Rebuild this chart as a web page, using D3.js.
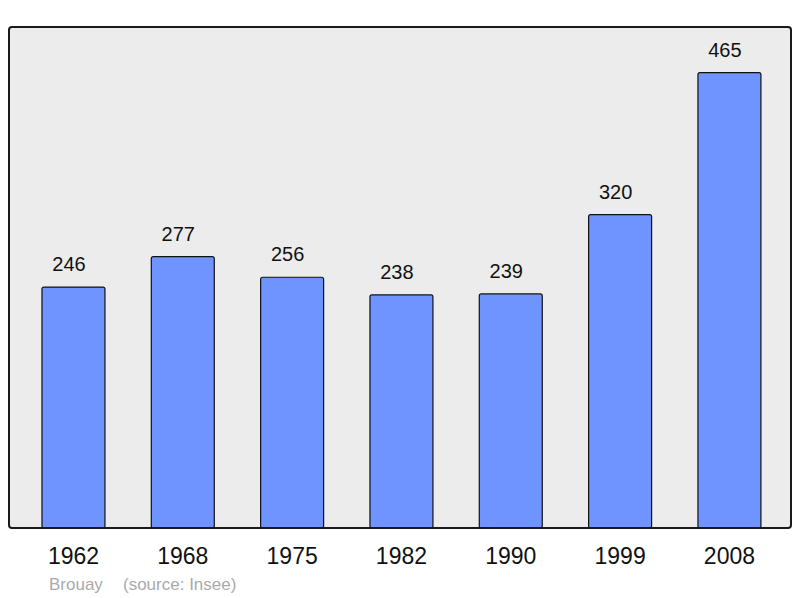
<!DOCTYPE html>
<html>
<head>
<meta charset="utf-8">
<script src="https://cdn.jsdelivr.net/npm/d3@7/dist/d3.min.js"></script>
<style>
  body { margin: 0; background: #fff; }
  svg text { font-family: "Liberation Sans", Arial, sans-serif; }
</style>
</head>
<body>
<svg id="chart" width="800" height="598"></svg>
<script>
// population data, Brouay
var years = ['1962', '1968', '1975', '1982', '1990', '1999', '2008'];
var population = [246, 277, 256, 238, 239, 320, 465];
var place = 'Brouay';
var source = '(source: Insee)';

var svg = d3.select('#chart');

var frame = { left: 9, top: 27, right: 791, bottom: 528 };

// background panel
svg.append('rect')
  .attr('x', frame.left)
  .attr('y', frame.top)
  .attr('width', frame.right - frame.left)
  .attr('height', frame.bottom - frame.top)
  .attr('rx', 3)
  .attr('fill', '#ececec');

var x = d3.scaleBand()
  .domain(years)
  .range([18.8, 784.1])
  .paddingInner(0.424)
  .paddingOuter(0.212);

var y = d3.scaleLinear()
  .domain([0, d3.max(population) * 1.1])
  .range([frame.bottom, frame.top]);

var data = years.map(function(yr, i) { return { year: yr, value: population[i] }; });

svg.selectAll('.bar')
  .data(data)
  .enter()
  .append('rect')
  .attr('class', 'bar')
  .attr('x', function(d) { return x(d.year); })
  .attr('y', function(d) { return y(d.value); })
  .attr('width', x.bandwidth())
  .attr('height', function(d) { return y(0) - y(d.value); })
  .attr('rx', 2)
  .attr('fill', '#7094ff')
  .attr('stroke', '#111')
  .attr('stroke-width', 1.2);

// value labels sit a little left of the bar centre
svg.selectAll('.val')
  .data(data)
  .enter()
  .append('text')
  .attr('class', 'val')
  .attr('x', function(d) { return x(d.year) + x.bandwidth() / 2 - 4.5; })
  .attr('y', function(d) { return y(d.value) - 16; })
  .attr('text-anchor', 'middle')
  .attr('font-size', 20)
  .attr('fill', '#111')
  .text(function(d) { return d.value; });

// frame border drawn over bars
svg.append('rect')
  .attr('x', frame.left)
  .attr('y', frame.top)
  .attr('width', frame.right - frame.left)
  .attr('height', frame.bottom - frame.top)
  .attr('rx', 3)
  .attr('fill', 'none')
  .attr('stroke', '#1a1a1a')
  .attr('stroke-width', 2);

// year labels
var xAxis = d3.axisBottom(x).tickSize(0).tickPadding(0);
var gx = svg.append('g')
  .attr('transform', 'translate(0,' + frame.bottom + ')')
  .call(xAxis);
gx.select('.domain').remove();
gx.selectAll('text')
  .attr('dy', null)
  .attr('y', 36)
  .attr('font-size', 23)
  .attr('fill', '#111');

svg.append('text')
  .attr('x', 49)
  .attr('y', 590)
  .attr('font-size', 17)
  .attr('fill', '#aaa')
  .text(place);

svg.append('text')
  .attr('x', 123)
  .attr('y', 590)
  .attr('font-size', 17)
  .attr('fill', '#aaa')
  .text(source);
</script>
</body>
</html>
